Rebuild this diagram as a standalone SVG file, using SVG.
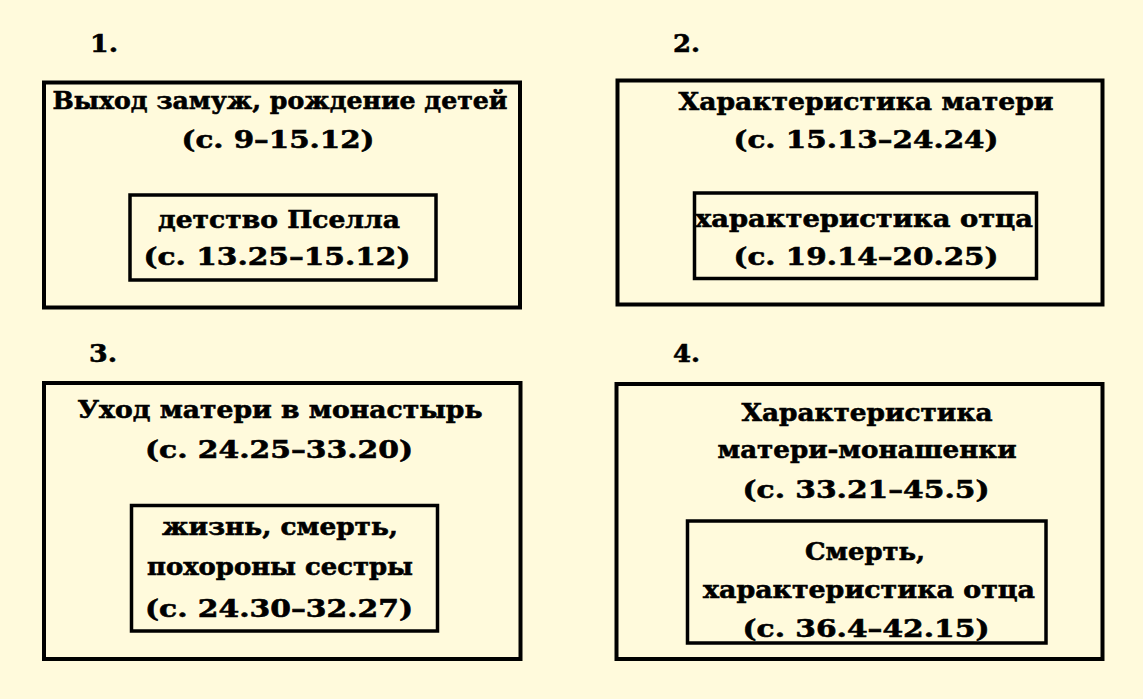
<svg xmlns="http://www.w3.org/2000/svg" width="1143" height="699" viewBox="0 0 1143 699">
<style>
.bg{fill:#FFFADC}
.ob{fill:none;stroke:#000;stroke-width:4}
.ib{fill:none;stroke:#000;stroke-width:3.5}
text{font-family:"DejaVu Serif","Liberation Serif",serif;font-weight:bold;font-size:24.5px;fill:#000;stroke:#000;stroke-width:0.6;text-anchor:middle}
.num{text-anchor:start}
</style>
<rect class="bg" x="0" y="0" width="1143" height="699"/>
<g id="connectors"></g>
<g id="node1">
<text class="num" x="90" y="52" textLength="28" lengthAdjust="spacingAndGlyphs">1.</text>
<rect class="ob" x="44" y="82.5" width="476" height="225"/>
<text x="280" y="109" textLength="455" lengthAdjust="spacingAndGlyphs">Выход замуж, рождение детей</text>
<text x="278" y="148" textLength="193" lengthAdjust="spacingAndGlyphs">(с.  9–15.12)</text>
</g>
<g id="node1a">
<rect class="ib" x="130" y="195" width="306" height="85"/>
<text x="279" y="228" textLength="242" lengthAdjust="spacingAndGlyphs">детство Пселла</text>
<text x="277" y="265" textLength="267" lengthAdjust="spacingAndGlyphs">(с.  13.25–15.12)</text>
</g>
<g id="node2">
<text class="num" x="673" y="52" textLength="27" lengthAdjust="spacingAndGlyphs">2.</text>
<rect class="ob" x="617.5" y="80.5" width="485" height="224"/>
<text x="866" y="110" textLength="375" lengthAdjust="spacingAndGlyphs">Характеристика матери</text>
<text x="866" y="148" textLength="265" lengthAdjust="spacingAndGlyphs">(с.  15.13–24.24)</text>
</g>
<g id="node2a">
<rect class="ib" x="694.5" y="193" width="342" height="85.5"/>
<text x="864" y="227" textLength="338" lengthAdjust="spacingAndGlyphs">характеристика отца</text>
<text x="866" y="265" textLength="265" lengthAdjust="spacingAndGlyphs">(с.  19.14–20.25)</text>
</g>
<g id="node3">
<text class="num" x="89" y="362" textLength="28" lengthAdjust="spacingAndGlyphs">3.</text>
<rect class="ob" x="44" y="383" width="476.5" height="276"/>
<text x="280" y="418" textLength="405" lengthAdjust="spacingAndGlyphs">Уход матери в монастырь</text>
<text x="279" y="458" textLength="268" lengthAdjust="spacingAndGlyphs">(с.  24.25–33.20)</text>
</g>
<g id="node3a">
<rect class="ib" x="131.5" y="505.5" width="306" height="125.5"/>
<text x="280" y="535" textLength="236" lengthAdjust="spacingAndGlyphs">жизнь, смерть,</text>
<text x="280" y="575" textLength="266" lengthAdjust="spacingAndGlyphs">похороны сестры</text>
<text x="279" y="617" textLength="268" lengthAdjust="spacingAndGlyphs">(с.  24.30–32.27)</text>
</g>
<g id="node4">
<text class="num" x="673" y="362" textLength="27" lengthAdjust="spacingAndGlyphs">4.</text>
<rect class="ob" x="616.5" y="384" width="486" height="275"/>
<text x="867" y="421" textLength="251" lengthAdjust="spacingAndGlyphs">Характеристика</text>
<text x="867" y="458" textLength="299" lengthAdjust="spacingAndGlyphs">матери-монашенки</text>
<text x="866" y="498" textLength="247" lengthAdjust="spacingAndGlyphs">(с.  33.21–45.5)</text>
</g>
<g id="node4a">
<rect class="ib" x="687.5" y="521" width="358.5" height="122"/>
<text x="865" y="560" textLength="120" lengthAdjust="spacingAndGlyphs">Смерть,</text>
<text x="869" y="598" textLength="332" lengthAdjust="spacingAndGlyphs">характеристика отца</text>
<text x="866" y="637" textLength="247" lengthAdjust="spacingAndGlyphs">(с.  36.4–42.15)</text>
</g>
</svg>
